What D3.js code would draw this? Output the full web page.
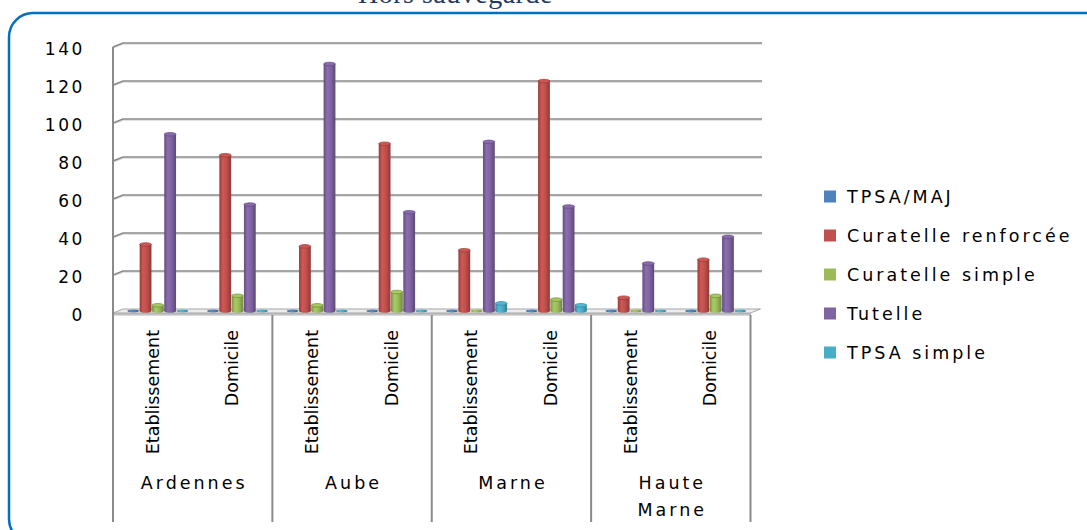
<!DOCTYPE html>
<html><head><meta charset="utf-8">
<script src="https://cdn.jsdelivr.net/npm/d3@7"></script>
<style>body{margin:0;background:#fff;} svg{display:block}</style>
</head><body>
<svg id="chart" width="1087" height="530"></svg>
<script>
const title = "Hors sauvegarde";
const groups = ["Ardennes", "Aube", "Marne", "Haute Marne"];
const places = ["Etablissement", "Domicile"];
const seriesNames = ["TPSA/MAJ", "Curatelle renforcée", "Curatelle simple", "Tutelle", "TPSA simple"];
// order: Ardennes Etab, Ardennes Dom, Aube Etab, Aube Dom, Marne Etab, Marne Dom, HM Etab, HM Dom
const tpsaMaj            = [0, 0, 0, 0, 0, 0, 0, 0];
const curatelleRenforcee = [35, 82, 34, 88, 32, 121, 7, 27];
const curatelleSimple    = [3, 8, 3, 10, 0, 6, 0, 8];
const tutelle            = [93, 56, 130, 52, 89, 55, 25, 39];
const tpsaSimple         = [0, 0, 0, 0, 4, 3, 0, 0];
const yTicks = [0, 20, 40, 60, 80, 100, 120, 140];
const colors = ["#4f81bd", "#c0504d", "#9bbb59", "#8064a2", "#4bacc6"];

const seriesValues = [tpsaMaj, curatelleRenforcee, curatelleSimple, tutelle, tpsaSimple];
const keys = [];
groups.forEach(g => places.forEach(p => keys.push(g + "|" + p)));

const svg = d3.select("#chart");
const FONT = "'DejaVu Sans', sans-serif";

// geometry
const left = 113, right = 750.5, depthX = 10, depthY = 4;
const y = d3.scaleLinear().domain([0, 140]).range([313, 47]);
const x0 = d3.scaleBand().domain(keys).range([left, right]).paddingInner(0).paddingOuter(0);
const x1 = d3.scaleBand().domain(seriesNames).range([0, x0.bandwidth()]).paddingInner(0).paddingOuter(0.74);

// title (cut at top, as in the original)
svg.append("text").attr("x", 358).attr("y", 3)
  .attr("font-family", "'Liberation Serif', serif").attr("font-size", 28)
  .attr("letter-spacing", 0.5)
  .attr("fill", "#1f3864").text(title);

// rounded frame
svg.append("rect").attr("x", 9).attr("y", 13).attr("width", 1110).attr("height", 530)
  .attr("rx", 24).attr("fill", "none").attr("stroke", "#0070c0").attr("stroke-width", 2.5);

// gradients
const defs = svg.append("defs");
colors.forEach((c, i) => {
  const g = defs.append("linearGradient").attr("id", "cyl" + i).attr("x1", 0).attr("x2", 1).attr("y1", 0).attr("y2", 0);
  g.append("stop").attr("offset", "0%").attr("stop-color", d3.color(c).darker(0.7));
  g.append("stop").attr("offset", "30%").attr("stop-color", d3.color(c).brighter(0.25));
  g.append("stop").attr("offset", "60%").attr("stop-color", c);
  g.append("stop").attr("offset", "100%").attr("stop-color", d3.color(c).darker(0.9));
});

// floor slab
svg.append("path")
  .attr("d", `M${left},${y(0)}L${right},${y(0)}L${right},${y(0) + 2}L${left},${y(0) + 2}Z`)
  .attr("fill", "#d4d4d4").attr("stroke", "#a6a6a6").attr("stroke-width", 0.8);
svg.append("path")
  .attr("d", `M${left},${y(0)}L${right},${y(0)}L${right + depthX},${y(0) - depthY}L${left + depthX},${y(0) - depthY}Z`)
  .attr("fill", "#ededed").attr("stroke", "#a6a6a6").attr("stroke-width", 1);

// gridlines (side wall + back wall)
const grid = svg.append("g");
yTicks.forEach(t => {
  const fy = y(t);
  if (t === 0) return;
  grid.append("path")
    .attr("d", `M${left},${fy + 1.2}L${left + depthX},${fy - depthY + 1.2}L${right + depthX + 1.5},${fy - depthY + 1.2}`)
    .attr("fill", "none").attr("stroke", "#d9d9d9").attr("stroke-width", 1.2);
  grid.append("path")
    .attr("d", `M${left},${fy}L${left + depthX},${fy - depthY}L${right + depthX + 1.5},${fy - depthY}`)
    .attr("fill", "none").attr("stroke", "#8a8a8a").attr("stroke-width", 1.6);
});

// y axis
const yAxis = d3.axisLeft(y).tickValues(yTicks).tickSize(0).tickPadding(28);
const ya = svg.append("g").attr("transform", `translate(${left},0)`).call(yAxis);
ya.select(".domain").remove();
ya.selectAll("text").attr("font-family", FONT).attr("font-size", 17)
  .attr("letter-spacing", 2.6).attr("fill", "#000").attr("dy", "0.42em");

// category dividers + left axis
svg.append("line").attr("x1", left).attr("x2", left).attr("y1", y(140)).attr("y2", 522)
  .attr("stroke", "#8a8a8a").attr("stroke-width", 2);
groups.forEach((g, gi) => {
  const xe = x0(keys[gi * 2 + 1]) + x0.bandwidth();
  svg.append("line").attr("x1", xe).attr("x2", xe).attr("y1", y(0) + 2).attr("y2", 522)
    .attr("stroke", "#8a8a8a").attr("stroke-width", 2);
});

// bars
const bars = svg.append("g");
const bw = x1.bandwidth() * 0.96;
keys.forEach((k, ki) => {
  seriesNames.forEach((s, si) => {
    const v = seriesValues[si][ki];
    const cx = x0(k) + x1(s) + x1.bandwidth() / 2 + depthX / 2;
    const base = y(0) - depthY / 2;
    const top = y(v) - depthY / 2;
    const c = colors[si];
    if (v === 0) {
      bars.append("ellipse").attr("cx", cx).attr("cy", base).attr("rx", bw / 2).attr("ry", 1.4)
        .attr("fill", "url(#cyl" + si + ")");
      return;
    }
    bars.append("ellipse").attr("cx", cx).attr("cy", base).attr("rx", bw / 2).attr("ry", 1.8)
      .attr("fill", "url(#cyl" + si + ")");
    bars.append("rect").attr("x", cx - bw / 2).attr("y", top).attr("width", bw).attr("height", base - top)
      .attr("fill", "url(#cyl" + si + ")");
    bars.append("ellipse").attr("cx", cx).attr("cy", top).attr("rx", bw / 2).attr("ry", 1.8)
      .attr("fill", d3.color(c).brighter(0.2)).attr("stroke", d3.color(c).darker(0.8)).attr("stroke-width", 0.7);
  });
});

// sub-category labels (rotated)
keys.forEach(k => {
  const cx = x0(k) + x0.bandwidth() / 2 - 0.5;
  svg.append("text").attr("transform", `translate(${cx},330) rotate(-90)`)
    .attr("text-anchor", "end").attr("dy", "0.36em")
    .attr("font-family", FONT).attr("font-size", 17.5).attr("fill", "#000")
    .text(k.split("|")[1]);
});

// group labels
groups.forEach((g, gi) => {
  const gx = x0(keys[gi * 2]) + x0.bandwidth();
  const words = g === "Haute Marne" ? ["Haute", "Marne"] : [g];
  words.forEach((w, wi) => {
    svg.append("text").attr("x", gx + 1.5).attr("y", 483 + wi * 26.5).attr("dy", "0.36em")
      .attr("text-anchor", "middle").attr("font-family", FONT).attr("font-size", 17.5)
      .attr("letter-spacing", 3).attr("fill", "#000").text(w);
  });
});

// legend
const lg = svg.append("g");
seriesNames.forEach((s, i) => {
  const cy = 196.5 + i * 39;
  lg.append("rect").attr("x", 824).attr("y", cy - 6).attr("width", 12).attr("height", 12).attr("fill", colors[i]);
  lg.append("text").attr("x", 847).attr("y", cy).attr("dy", "0.36em")
    .attr("font-family", FONT).attr("font-size", 17.5).attr("letter-spacing", 3)
    .attr("fill", "#000").text(s);
});
</script>
</body></html>
